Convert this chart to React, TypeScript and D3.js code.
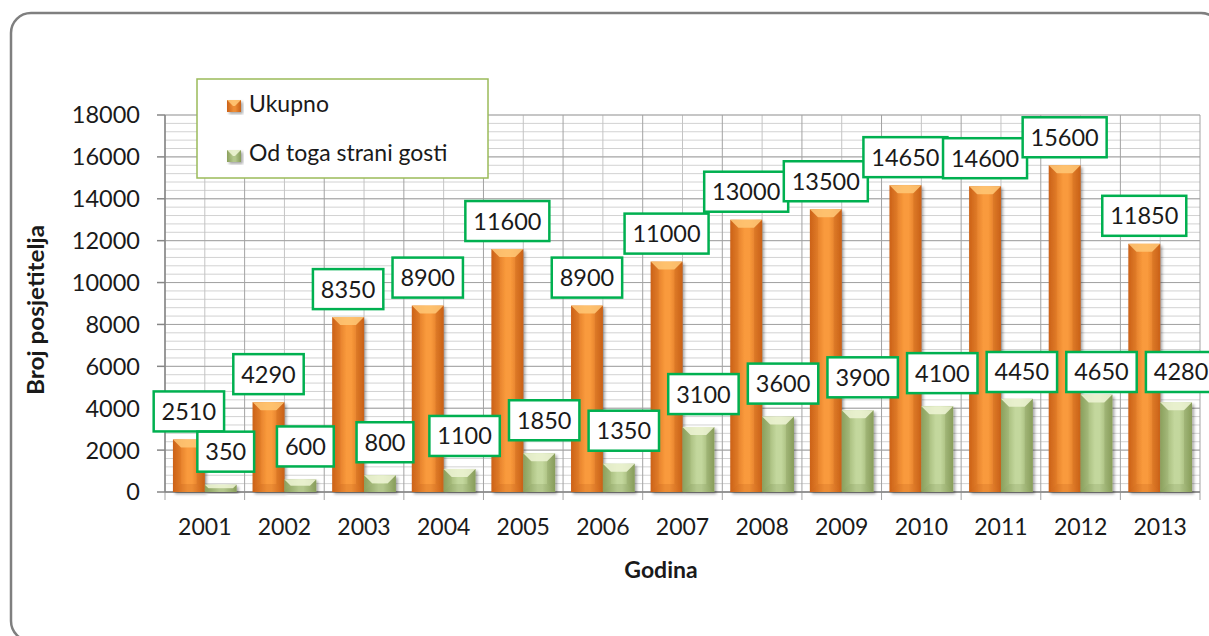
import { range, scaleBand, scaleLinear } from 'd3'

const years = ['2001', '2002', '2003', '2004', '2005', '2006', '2007', '2008', '2009', '2010', '2011', '2012', '2013']
const ukupno = [2510, 4290, 8350, 8900, 11600, 8900, 11000, 13000, 13500, 14650, 14600, 15600, 11850]
const strani = [350, 600, 800, 1100, 1850, 1350, 3100, 3600, 3900, 4100, 4450, 4650, 4280]
const yTicks = [0, 2000, 4000, 6000, 8000, 10000, 12000, 14000, 16000, 18000]
const seriesNames = ['Ukupno', 'Od toga strani gosti']

const W = 1209
const H = 636
const FONT = 'Lato, "Noto Sans", sans-serif'

const palettes = {
  orange: { id: 'or', edge: '#cf6419', mid: '#f99a3c', top: '#ffc877', bottom: '#b85612' },
  green: { id: 'gr', edge: '#8ea45f', mid: '#c3d79d', top: '#eef5d6', bottom: '#71864a' },
}
type Pal = (typeof palettes)['orange']

function Gradients() {
  return (
    <defs>
      {Object.values(palettes).map((p) => (
        <linearGradient key={p.id} id={`body-${p.id}`} x1="0" x2="1" y1="0" y2="0">
          <stop offset="0" stopColor={p.edge} />
          <stop offset="0.45" stopColor={p.mid} />
          <stop offset="0.6" stopColor={p.mid} />
          <stop offset="1" stopColor={p.edge} />
        </linearGradient>
      ))}
      <filter id="shadow" x="-20%" y="-20%" width="140%" height="140%">
        <feDropShadow dx="2" dy="2" stdDeviation="1.5" floodColor="#000" floodOpacity="0.35" />
      </filter>
    </defs>
  )
}

function Bar({ x, y, w, h, pal }: { x: number; y: number; w: number; h: number; pal: Pal }) {
  const b = Math.min(8, h / 2, w / 2)
  return (
    <g>
      <rect x={x} y={y} width={w} height={h} fill={`url(#body-${pal.id})`} filter="url(#shadow)" />
      <polygon points={`${x},${y} ${x + w},${y} ${x + w - b},${y + b} ${x + b},${y + b}`} fill={pal.top} opacity="0.85" />
      <polygon points={`${x},${y + h} ${x + w},${y + h} ${x + w - b},${y + h - b} ${x + b},${y + h - b}`} fill={pal.bottom} opacity="0.2" />
      <polygon points={`${x},${y} ${x + b},${y + b} ${x + b},${y + h - b} ${x},${y + h}`} fill={pal.bottom} opacity="0.12" />
      <polygon points={`${x + w},${y} ${x + w - b},${y + b} ${x + w - b},${y + h - b} ${x + w},${y + h}`} fill={pal.bottom} opacity="0.22" />
    </g>
  )
}

function Label({ cx, bottom, text }: { cx: number; bottom: number; text: string }) {
  const bw = text.length * 13.6 + 16
  const bh = 40
  return (
    <g>
      <rect x={cx - bw / 2} y={bottom - bh} width={bw} height={bh} fill="#fff" stroke="#00b050" strokeWidth="2.5" />
      <text x={cx} y={bottom - bh / 2} dy="0.36em" textAnchor="middle" fontSize="23.5" fill="#1a1a1a">
        {text}
      </text>
    </g>
  )
}

export default function App() {
  const left = 165
  const right = 1200
  const top = 115
  const bottom = 492
  const x = scaleBand<string>().domain(years).range([left, right])
  const sub = scaleBand<number>().domain([0, 1]).range([0, x.bandwidth()]).paddingOuter(0.25)
  const y = scaleLinear().domain([0, 18000]).range([bottom, top])
  const minor = range(0, 18001, 400)
  const bw = sub.bandwidth()

  return (
    <svg width={W} height={H} style={{ position: 'absolute', left: 0, top: 0, display: 'block' }} fontFamily={FONT}>
      <Gradients />
      <rect width={W} height={H} fill="#fff" />
      <rect x="11" y="13" width="1210" height="628" rx="20" fill="#fff" stroke="#7f7f7f" strokeWidth="2.5" />

      {/* grid */}
      {minor.map((v) => (
        <line key={`m${v}`} x1={left} x2={right} y1={y(v)} y2={y(v)} stroke="#d2d2d2" strokeWidth="1" />
      ))}
      {years.map((yr) => (
        <line key={`vm${yr}`} x1={x(yr)! + x.bandwidth() / 2} x2={x(yr)! + x.bandwidth() / 2} y1={top} y2={bottom} stroke="#c4c4c4" />
      ))}
      {yTicks.map((v) => (
        <line key={`M${v}`} x1={left} x2={right} y1={y(v)} y2={y(v)} stroke="#a3a3a3" strokeWidth="1" />
      ))}
      {[...years.map((yr) => x(yr)!), right].map((px, i) => (
        <line key={`vb${i}`} x1={px} x2={px} y1={top} y2={bottom + 8} stroke="#a3a3a3" />
      ))}

      {/* axes */}
      <line x1={left} x2={left} y1={top} y2={bottom} stroke="#868686" strokeWidth="1.5" />
      <line x1={left} x2={right} y1={bottom} y2={bottom} stroke="#868686" strokeWidth="1.5" />
      {yTicks.map((v) => (
        <g key={`t${v}`}>
          <line x1={left - 8} x2={left} y1={y(v)} y2={y(v)} stroke="#868686" strokeWidth="1.5" />
          <text x={140} y={y(v)} dy="0.36em" textAnchor="end" fontSize="23.5" fill="#1a1a1a">
            {v}
          </text>
        </g>
      ))}
      {years.map((yr) => (
        <text key={`yl${yr}`} x={x(yr)! + x.bandwidth() / 2} y={535} textAnchor="middle" fontSize="23" fill="#1a1a1a">
          {yr}
        </text>
      ))}

      {/* bars */}
      {years.map((yr, i) => (
        <g key={`b${yr}`}>
          <Bar x={x(yr)! + sub(0)!} y={y(ukupno[i])} w={bw} h={bottom - y(ukupno[i])} pal={palettes.orange} />
          <Bar x={x(yr)! + sub(1)!} y={y(strani[i])} w={bw} h={bottom - y(strani[i])} pal={palettes.green} />
        </g>
      ))}

      {/* data labels */}
      {years.map((yr, i) => (
        <g key={`l${yr}`}>
          <Label cx={x(yr)! + sub(0)! + bw / 2} bottom={y(ukupno[i]) - 8} text={String(ukupno[i])} />
          <Label cx={x(yr)! + sub(1)! + bw / 2 + 5} bottom={Math.max(y(strani[i]) - 13, 392)} text={String(strani[i])} />
        </g>
      ))}

      {/* axis titles */}
      <text transform="translate(36,310) rotate(-90)" dy="0.36em" textAnchor="middle" fontSize="22" fontWeight="bold" fill="#1a1a1a" textLength="170" lengthAdjust="spacingAndGlyphs">
        Broj posjetitelja
      </text>
      <text x={661} y={578} textAnchor="middle" fontSize="23" fontWeight="bold" fill="#1a1a1a">
        Godina
      </text>

      {/* legend */}
      <rect x="197" y="79" width="291" height="99" fill="#fff" stroke="#9bbb59" strokeWidth="1.5" />
      {seriesNames.map((name, i) => {
        const pal = i === 0 ? palettes.orange : palettes.green
        const my = 100 + i * 50
        return (
          <g key={name}>
            <Bar x={227} y={my} w={14} h={12} pal={pal} />
            <text x={249} y={112 + i * 49} fontSize="23" fill="#1a1a1a">
              {name}
            </text>
          </g>
        )
      })}
    </svg>
  )
}
